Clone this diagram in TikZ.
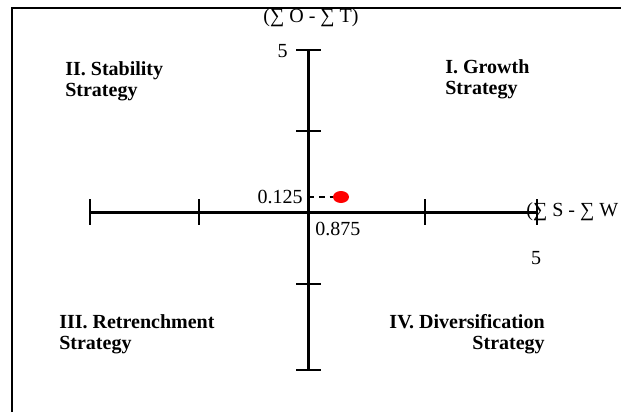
\documentclass[tikz,border=0pt]{standalone}
\usepackage{fontspec}
\setmainfont{Liberation Serif}[BoldFont={Liberation Serif Bold}]
\usetikzlibrary{positioning,shapes.geometric}

\begin{document}
\begin{tikzpicture}[
  x=0.6pt, y=-0.6pt,
  axis/.style={line width=1.8pt},
  tick/.style={line width=1.2pt},
  quad/.style={font=\fontsize{12}{12.5}\selectfont\bfseries, inner sep=0pt},
  val/.style={font=\fontsize{12}{12}\selectfont, inner sep=0pt}
]
\useasboundingbox (0,0) rectangle (621,412);
% frame (only top and left edges show)
\draw[line width=1.2pt] (11.5,412) -- (11.5,7.5) -- (621,7.5);

% axes
\coordinate (xl) at (90,212);
\coordinate (xr) at (537,212);
\coordinate (yt) at (308,50);
\coordinate (yb) at (308,370);
\draw[axis] (xl) -- (xr);
\draw[axis] (yt) -- (yb);

% ticks
\foreach \tx in {90,199,425,537}
  \draw[tick] (\tx,199) -- (\tx,225);
\foreach \ty in {50,131,284,370}
  \draw[tick] (296,\ty) -- (321,\ty);

% axis labels
\node[val] (ylab) at (311,18) {(∑ O - ∑ T)};
\node[val, anchor=east] (ymax) at (288,51) {5};
\node[val, anchor=west] (xlab) at (526,212) {(∑ S - ∑ W};
\node[val] (xmax) at (536,258) {5};

% position
\node[ellipse, fill=red, inner sep=0pt, minimum width=9.6pt, minimum height=7.2pt] (pos) at (341,197) {};
\coordinate (py) at (308,197);
\draw[line width=1pt, dash pattern=on 3.5pt off 3pt] (py) -- (pos.west);
\node[val, anchor=east] (vy) at (303,197) {0.125};
\node[val, anchor=west] (vx) at (315,229) {0.875};

% quadrants
\node[quad, anchor=north west, align=left] (q2) at (65,61) {II. Stability\\Strategy};
\node[quad, anchor=north west, align=left] (q1) at (445,59) {I. Growth\\Strategy};
\node[quad, anchor=north west, align=left] (q3) at (59,314) {III. Retrenchment\\Strategy};
\node[quad, anchor=north east, align=right] (q4) at (545,314) {IV. Diversification\\Strategy};
\end{tikzpicture}
\end{document}
